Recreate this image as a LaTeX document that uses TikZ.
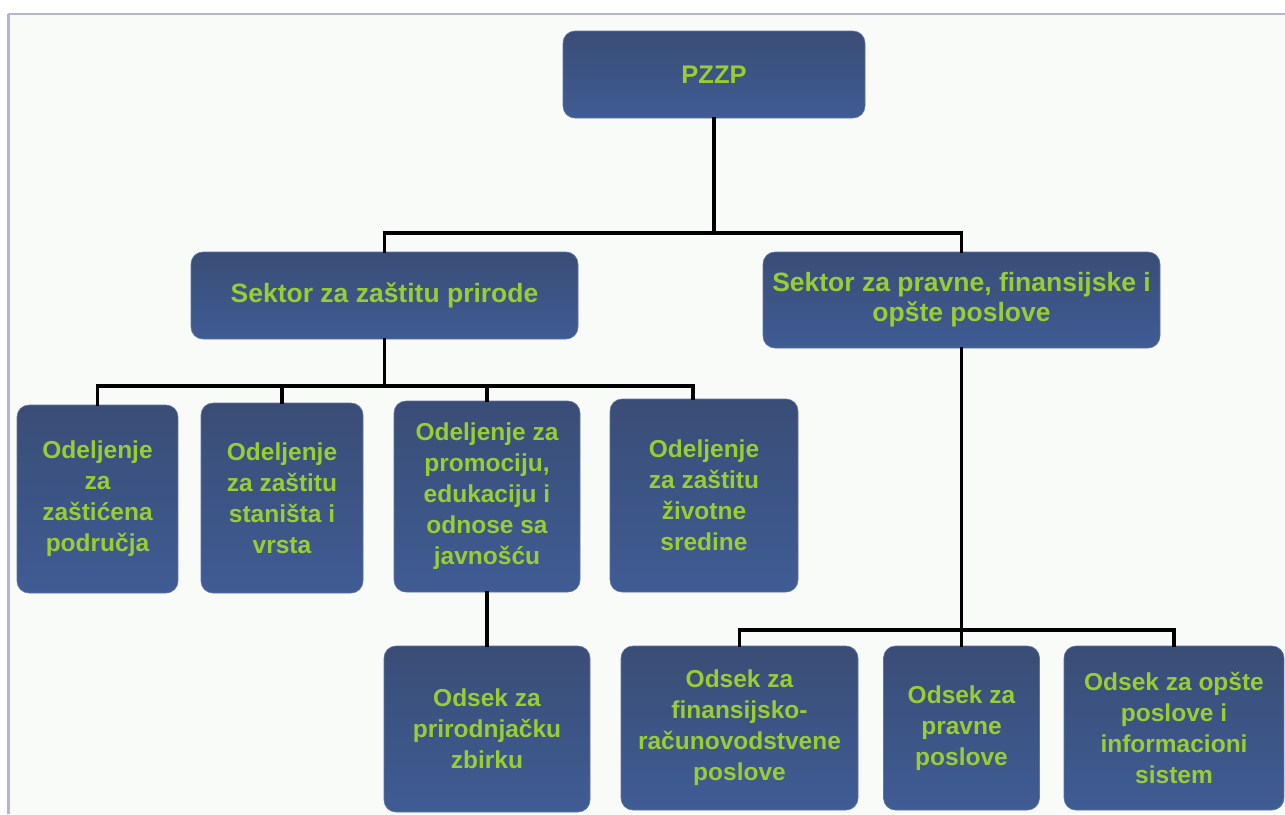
\documentclass[tikz,border=0pt]{standalone}
\usepackage{fontspec}
\setmainfont{Liberation Sans}
\definecolor{boxtop}{HTML}{3A4D76}
\definecolor{boxbot}{HTML}{3F5C94}
\definecolor{boxedge}{HTML}{5C74A6}
\definecolor{txtgreen}{HTML}{9ACD32}
\definecolor{pagebg}{HTML}{F9FBF9}
\definecolor{frameline}{HTML}{B4B4D6}
\tikzset{
  orgbox/.style={rounded corners=12pt, top color=boxtop, bottom color=boxbot,
    draw=boxedge, line width=0.6pt, inner sep=0pt, align=center,
    text=txtgreen, font=\bfseries\fontsize{24.5}{31}\selectfont},
  sectorbox/.style={orgbox, font=\bfseries\fontsize{26.5}{30}\selectfont},
  link/.style={draw=black, line width=3.4pt, line cap=rect}
}
\begin{document}
\begin{tikzpicture}[x=1pt,y=-1pt]
\useasboundingbox (0,0) rectangle (1285,814);
\fill[white] (0,0) rectangle (1285,814);
\fill[pagebg] (8,14) rectangle (1285,814);
\draw[frameline, line width=2pt] (8,14) -- (1285,14);
\draw[frameline, line width=3pt] (8.5,14) -- (8.5,814);

% nodes
\node[orgbox, minimum width=302pt, minimum height=87pt, font=\bfseries\fontsize{25.5}{30}\selectfont] (pzzp) at (714,74.5) {PZZP};
\node[sectorbox, minimum width=387pt, minimum height=87pt] (s1) at (384.5,295.5) {Sektor za zaštitu prirode};
\node[sectorbox, minimum width=397pt, minimum height=96pt] (s2) at (961.5,300) {Sektor za pravne, finansijske i\\opšte poslove};

\node[orgbox, minimum width=161pt, minimum height=188pt] (o1) at (97.5,499) {Odeljenje\\za\\zaštićena\\područja};
\node[orgbox, minimum width=162pt, minimum height=190pt] (o2) at (282,498) {Odeljenje\\za zaštitu\\staništa i\\vrsta};
\node[orgbox, minimum width=186pt, minimum height=191pt] (o3) at (487,496.5) {Odeljenje za\\promociju,\\edukaciju i\\odnose sa\\javnošću};
\node[orgbox, minimum width=188pt, minimum height=193pt] (o4) at (704,495.5) {Odeljenje\\za zaštitu\\životne\\sredine};

\node[orgbox, minimum width=206pt, minimum height=166pt] (p1) at (487,729) {Odsek za\\prirodnjačku\\zbirku};
\node[orgbox, minimum width=237pt, minimum height=164pt] (f1) at (739.5,728) {Odsek za\\finansijsko-\\računovodstvene\\poslove};
\node[orgbox, minimum width=156pt, minimum height=164pt] (f2) at (961.5,728) {Odsek za\\pravne\\poslove};
\node[orgbox, minimum width=220pt, minimum height=164pt] (f3) at (1174,728) {Odsek za opšte\\poslove i\\informacioni\\sistem};

% junction coordinates
\coordinate (j0) at (714,233);
\coordinate (j1) at (384.5,386);
\coordinate (j2) at (961.5,630);

% connectors
\draw[link] (pzzp.south) -- (j0);
\draw[link] (s1.north) |- (j0) -| (s2.north);
\draw[link] (s1.south) -- (j1);
\draw[link] (o1.north) |- (j1) -| ([xshift=-11pt]o4.north);
\draw[link] (o2.north) -- (o2.north |- j1);
\draw[link] (o3.north) -- (o3.north |- j1);
\draw[link] (o3.south) -- (p1.north);
\draw[link] (s2.south) -- (j2);
\draw[link] (f1.north) |- (j2) -| (f3.north);
\draw[link] (f2.north) -- (f2.north |- j2);
\end{tikzpicture}
\end{document}
